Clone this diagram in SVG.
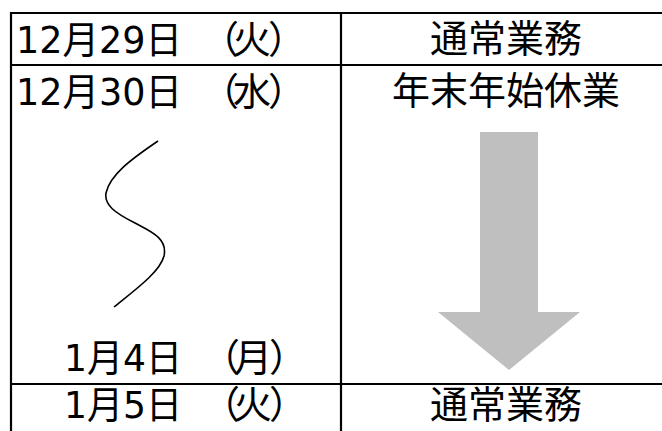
<svg xmlns="http://www.w3.org/2000/svg" width="662" height="431" viewBox="0 0 662 431">
<style>
.t{font-family:"DejaVu Sans","Noto Sans CJK JP",sans-serif;font-size:38px;fill:#000}
.c{text-anchor:middle}
.ln{stroke:#000;stroke-width:2.2;fill:none}
</style>
<rect width="662" height="431" fill="#fff"/>
<g id="grid">
<line class="ln" x1="11" y1="13" x2="662" y2="13"/>
<line class="ln" x1="11" y1="65" x2="662" y2="65"/>
<line class="ln" x1="11" y1="384" x2="662" y2="384"/>
<line class="ln" x1="11" y1="12" x2="11" y2="431"/>
<line class="ln" x1="341" y1="12" x2="341" y2="431"/>
</g>
<g id="row1">
<text class="t" x="16" y="53" textLength="166" lengthAdjust="spacingAndGlyphs">12月29日</text>
<text class="t" x="201 233 268" y="53">（火）</text>
<text class="t c" x="506" y="52">通常業務</text>
</g>
<g id="row2">
<text class="t" x="16" y="105" textLength="166" lengthAdjust="spacingAndGlyphs">12月30日</text>
<text class="t" x="201 233 268" y="105">（水）</text>
<text class="t c" x="506" y="104">年末年始休業</text>
</g>
<g id="wave">
<path class="ln" style="stroke-width:1.6" d="M158,141 C130,160 110,175 106,193 C104,205 115,213 135,223 C150,231 168,238 164,256 C160,272 135,290 114,307"/>
</g>
<g id="arrow">
<polygon points="480,132 538,132 538,312 580,312 509,370 438,312 480,312" fill="#bfbfbf"/>
</g>
<g id="row3">
<text class="t" x="64" y="371" textLength="118" lengthAdjust="spacingAndGlyphs">1月4日</text>
<text class="t" x="202 234 269" y="371">（月）</text>
</g>
<g id="row4">
<text class="t" x="64" y="418" textLength="118" lengthAdjust="spacingAndGlyphs">1月5日</text>
<text class="t" x="202 234 269" y="418">（火）</text>
<text class="t c" x="506" y="418">通常業務</text>
</g>
</svg>
